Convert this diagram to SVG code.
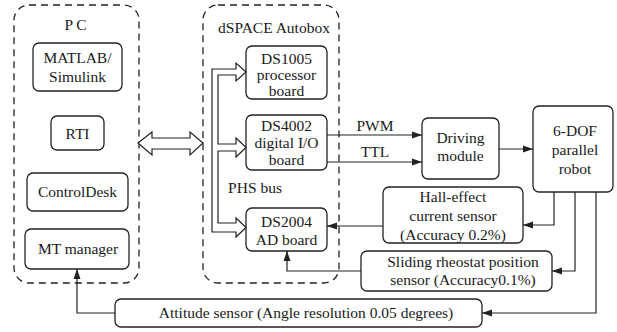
<svg xmlns="http://www.w3.org/2000/svg" width="617" height="332" viewBox="0 0 617 332">
<style>
.box{fill:#fff;stroke:#222;stroke-width:1.3}
.dash{fill:none;stroke:#222;stroke-width:1.3;stroke-dasharray:7,5}
.ln{fill:none;stroke:#222;stroke-width:1.2}
.hollow{fill:#fff;stroke:#222;stroke-width:1.2;stroke-linejoin:miter}
text{font-family:"Liberation Serif","Times New Roman",serif;font-size:15.5px;fill:#1a1a1a;text-anchor:middle}
</style>
<defs>
<marker id="ah" viewBox="0 0 10 10" refX="10" refY="5" markerWidth="10" markerHeight="10" markerUnits="userSpaceOnUse" orient="auto">
<path d="M0,1.5 L10,5 L0,8.5 Z" fill="#222"/>
</marker>
</defs>
<rect width="617" height="332" fill="#fff"/>

<g id="pc">
<rect class="dash" x="14" y="5" width="125" height="278" rx="15"/>
<text x="77" y="30" letter-spacing="3">PC</text>
</g>
<g id="matlab">
<rect class="box" x="33" y="43" width="89" height="48" rx="6"/>
<text x="77.5" y="63">MATLAB/</text>
<text x="77.5" y="82">Simulink</text>
</g>
<g id="rti">
<rect class="box" x="51" y="116" width="53" height="34" rx="6"/>
<text x="77.5" y="139">RTI</text>
</g>
<g id="controldesk">
<rect class="box" x="27" y="173" width="101" height="38" rx="6"/>
<text x="77.5" y="197">ControlDesk</text>
</g>
<g id="mtmanager">
<rect class="box" x="25" y="229" width="104" height="40" rx="6"/>
<text x="78" y="254">MT manager</text>
</g>

<g id="dspace">
<rect class="dash" x="203" y="5" width="136" height="278" rx="15"/>
<text x="274" y="33">dSPACE Autobox</text>
</g>
<g id="ds1005">
<rect class="box" x="246" y="46" width="81" height="53" rx="6"/>
<text x="286.5" y="64">DS1005</text>
<text x="286.5" y="80">processor</text>
<text x="286.5" y="96">board</text>
</g>
<g id="ds4002">
<rect class="box" x="246" y="115" width="81" height="55" rx="6"/>
<text x="286.5" y="131">DS4002</text>
<text x="286.5" y="148">digital I/O</text>
<text x="286.5" y="165">board</text>
</g>
<g id="ds2004">
<rect class="box" x="246" y="208" width="81" height="43" rx="6"/>
<text x="286.5" y="227">DS2004</text>
<text x="286.5" y="245">AD board</text>
</g>
<text x="255" y="193">PHS bus</text>

<g id="driving">
<rect class="box" x="422" y="118" width="77" height="61" rx="6"/>
<text x="460.5" y="143">Driving</text>
<text x="460.5" y="161">module</text>
</g>
<g id="robot">
<rect class="box" x="533" y="106" width="80" height="86" rx="6"/>
<text x="575" y="136">6-DOF</text>
<text x="575" y="155">parallel</text>
<text x="575" y="174">robot</text>
</g>
<g id="hall">
<rect class="box" x="383" y="187" width="140" height="56" rx="6"/>
<text x="453" y="202">Hall-effect</text>
<text x="453" y="221">current sensor</text>
<text x="453" y="240">(Accuracy 0.2%)</text>
</g>
<g id="sliding">
<rect class="box" x="361" y="251" width="191" height="40" rx="6"/>
<text x="463" y="267">Sliding rheostat position</text>
<text x="463" y="285">sensor (Accuracy0.1%)</text>
</g>
<g id="attitude">
<rect class="box" x="115" y="299" width="367" height="28" rx="6"/>
<text x="306" y="318">Attitude sensor (Angle resolution 0.05 degrees)</text>
</g>

<g id="connectors">
<path class="hollow" d="M138,143 L152,132 L152,138 L190,138 L190,132 L203,143 L190,155 L190,149 L152,149 L152,155 Z"/>
<path class="hollow" d="M212,69 L236,69 L236,63 L246,72 L236,81 L236,75 L218,75 L218,144 L236,144 L236,138 L246,147.5 L236,157 L236,151 L218,151 L218,223 L236,223 L236,218 L246,227.5 L236,237 L236,232 L212,232 Z"/>
<line class="ln" x1="327" y1="135" x2="422" y2="135" marker-end="url(#ah)"/>
<line class="ln" x1="327" y1="162" x2="422" y2="162" marker-end="url(#ah)"/>
<text x="375" y="131">PWM</text>
<text x="375" y="157">TTL</text>
<line class="ln" x1="499" y1="149" x2="533" y2="149" marker-end="url(#ah)"/>
<polyline class="ln" points="554,192 554,225 523,225" marker-end="url(#ah)"/>
<polyline class="ln" points="575,192 575,271 552,271" marker-end="url(#ah)"/>
<polyline class="ln" points="596,192 596,313 482,313" marker-end="url(#ah)"/>
<line class="ln" x1="383" y1="226" x2="327" y2="226" marker-end="url(#ah)"/>
<polyline class="ln" points="361,271 287,271 287,251" marker-end="url(#ah)"/>
<polyline class="ln" points="115,313 77,313 77,269" marker-end="url(#ah)"/>
</g>
</svg>
